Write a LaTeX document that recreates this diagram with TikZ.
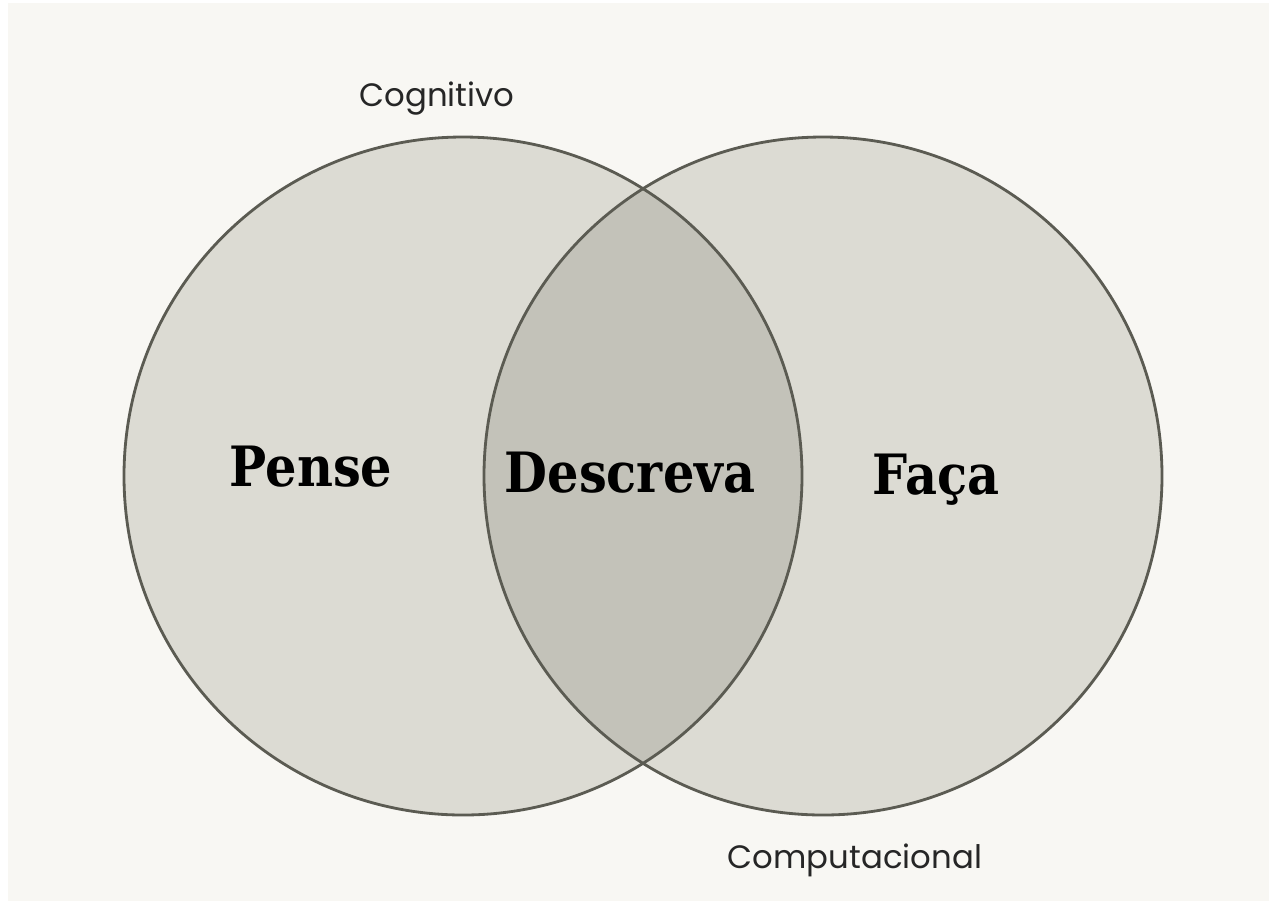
\documentclass[tikz,border=0pt]{standalone}
\usepackage{fontspec}
\usepackage{xcolor}
\setmainfont{DejaVu Serif}
\newfontfamily\labelfont{Poppins}
\newfontfamily\wordfont[FakeStretch=0.89]{DejaVu Serif}
\definecolor{paper}{HTML}{F8F7F3}
\definecolor{disc}{HTML}{DCDBD3}
\definecolor{overlap}{HTML}{C3C2B9}
\definecolor{rim}{HTML}{5B5B52}

\begin{document}
\begin{tikzpicture}[x=0.01cm, y=-0.01cm,
        setlabel/.style={font=\labelfont\fontsize{9.2}{11}\selectfont, text=black!85},
        word/.style={font=\wordfont\bfseries\fontsize{15.8}{18}\selectfont, text=black},
        rimline/.style={draw=rim, line width=0.8pt}]
        \useasboundingbox (0,0) rectangle (1269,911);
        \fill[white] (0,0) rectangle (1269,911);
        \fill[paper] (8,3) rectangle (1269,901);
        % the two sets
        \fill[disc] (463,476) circle[radius=339];
        \fill[disc] (823,476) circle[radius=339];
        \begin{scope}
                \clip (463,476) circle[radius=339];
                \fill[overlap] (823,476) circle[radius=339];
        \end{scope}
        \draw[rimline] (463,476) circle[radius=339];
        \draw[rimline] (823,476) circle[radius=339];
        % texts
        \node[setlabel] (cognitivo) at (437,99) {Cognitivo};
        \node[setlabel] (computacional) at (855,860) {Computacional};
        \node[word] (pense) at (311,467) {Pense};
        \node[word] (descreva) at (630,473) {Descreva};
        \node[word] (faca) at (936,480) {Faça};
\end{tikzpicture}
\end{document}
